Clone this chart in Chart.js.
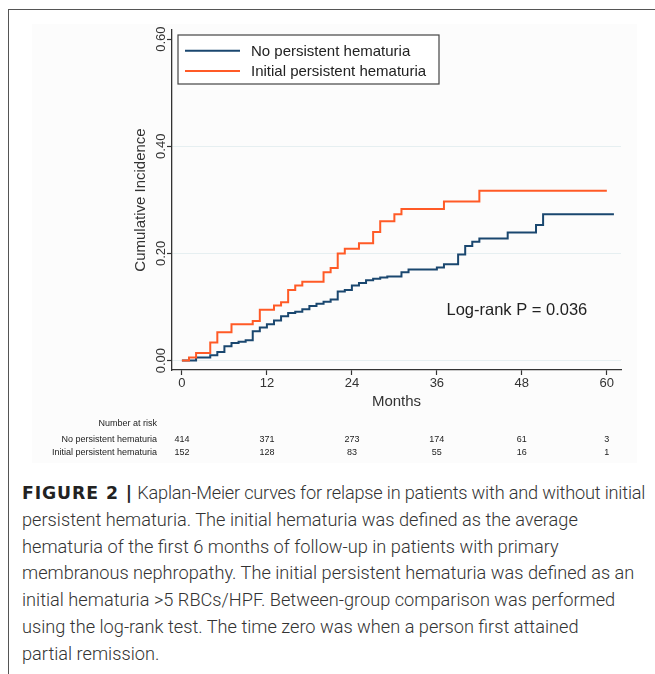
<!DOCTYPE html>
<html>
<head>
<meta charset="utf-8">
<script src="https://cdn.jsdelivr.net/npm/chart.js@4.4.1/dist/chart.umd.min.js"></script>
<style>
  body { margin: 0; background: #fff; width: 655px; height: 674px; overflow: hidden; position: relative; }
  #frame { position: absolute; left: 8px; top: 9px; width: 700px; height: 700px; border-top: 1.5px solid #555; border-left: 1.5px solid #555; }
  #chart { position: absolute; left: 0; top: 0; }
  #caption { position: absolute; left: 22px; top: 480px; font-family: Roboto, "Liberation Sans", sans-serif; font-weight: 300; font-size: 18.2px; line-height: 26.8px; color: #333; white-space: nowrap; }
  #caption b { font-family: "DejaVu Sans", sans-serif; font-weight: 700; font-size: 17.3px; letter-spacing: 0.9px; color: #222; }
  #caption .tight { letter-spacing: -0.2px; }
</style>
</head>
<body>
<div id="frame"></div>
<canvas id="chart" width="655" height="470"></canvas>
<div id="caption">
<b>FIGURE 2 |</b><span class="tight"> Kaplan-Meier curves for relapse in patients with and without initial</span><br>
persistent hematuria. The initial hematuria was defined as the average<br>
hematuria of the first 6 months of follow-up in patients with primary<br>
membranous nephropathy. The initial persistent hematuria was defined as an<br>
initial hematuria &gt;5 RBCs/HPF. Between-group comparison was performed<br>
using the log-rank test. The time zero was when a person first attained<br>
partial remission.
</div>
<script>
// series (months, cumulative incidence)
const seriesNames = ["No persistent hematuria", "Initial persistent hematuria"];
const noPersistMonths = [0, 2, 4, 5, 6, 7, 8, 9, 10, 11, 12, 13, 14, 15, 16, 17, 18, 19, 20, 21, 22, 23, 24, 25, 26, 27, 28, 29, 31, 32, 36, 37, 39, 40, 41, 42, 46, 50, 51, 61];
const noPersistValues = [0, 0.006, 0.010, 0.016, 0.027, 0.033, 0.035, 0.038, 0.055, 0.062, 0.068, 0.075, 0.083, 0.089, 0.091, 0.096, 0.102, 0.106, 0.110, 0.114, 0.129, 0.132, 0.140, 0.145, 0.150, 0.153, 0.155, 0.157, 0.165, 0.170, 0.174, 0.180, 0.198, 0.214, 0.222, 0.228, 0.239, 0.253, 0.273, 0.273];
const persistMonths = [0, 1, 2, 4, 5, 7, 10, 11, 13, 14, 15, 16, 17, 20, 21, 22, 23, 25, 27, 28, 30, 31, 37, 42, 60];
const persistValues = [0, 0.006, 0.014, 0.034, 0.053, 0.068, 0.074, 0.095, 0.103, 0.109, 0.132, 0.140, 0.147, 0.165, 0.173, 0.200, 0.209, 0.219, 0.240, 0.260, 0.273, 0.283, 0.297, 0.317, 0.317];

const xTicks = [0, 12, 24, 36, 48, 60];
const yTicks = [0, 0.2, 0.4, 0.6];
const riskMonths = [0, 12, 24, 36, 48, 60];
const riskNoPersist = [414, 371, 273, 174, 61, 3];
const riskPersist = [152, 128, 83, 55, 16, 1];
const logRankText = "Log-rank P = 0.036";

const blue = "#1a476f";
const orange = "#ff5a26";
const font = "'Liberation Sans', Arial, sans-serif";

function toPoints(xs, ys) {
  return xs.map((m, i) => ({ x: m, y: ys[i] }));
}

// axis labels, legend, risk table and annotation
const extras = {
  id: "extras",
  beforeDraw(chart) {
    const c = chart.ctx;
    c.save();
    c.fillStyle = "#fcfcfc";
    c.fillRect(32, 24, 605, 439);
    c.restore();
  },
  afterDraw(chart) {
    const c = chart.ctx;
    const a = chart.chartArea;
    const x = chart.scales.x, y = chart.scales.y;
    c.save();
    c.fillStyle = "#333";

    // y tick labels, rotated
    c.font = "13px " + font;
    c.textAlign = "center";
    c.textBaseline = "middle";
    yTicks.forEach(v => {
      c.save();
      c.translate(a.left - 11, y.getPixelForValue(v));
      c.rotate(-Math.PI / 2);
      c.fillText(v.toFixed(2), 0, 0);
      c.restore();
    });
    // x tick labels
    xTicks.forEach(v => c.fillText(String(v), x.getPixelForValue(v), a.bottom + 13));

    // titles
    c.font = "15px " + font;
    c.fillText("Months", (a.left + a.right) / 2, a.bottom + 32);
    c.save();
    c.translate(a.left - 31.5, (a.top + a.bottom) / 2);
    c.rotate(-Math.PI / 2);
    c.fillText("Cumulative Incidence", 0, 0);
    c.restore();

    // log-rank annotation
    c.font = "16.5px " + font;
    c.fillStyle = "#222";
    c.fillText(logRankText, x.getPixelForValue(47.3), y.getPixelForValue(0.093));

    // legend box
    const lx = a.left + 6, ly = a.top + 5;
    c.fillStyle = "#fff";
    c.fillRect(lx, ly, 261, 49);
    c.strokeStyle = "#444";
    c.lineWidth = 1.2;
    c.strokeRect(lx, ly, 261, 49);
    c.font = "15px " + font;
    c.textAlign = "left";
    chart.data.datasets.forEach((ds, i) => {
      const yy = ly + 15.7 + i * 20.3;
      c.strokeStyle = ds.borderColor;
      c.lineWidth = 2;
      c.beginPath();
      c.moveTo(lx + 7, yy);
      c.lineTo(lx + 62, yy);
      c.stroke();
      c.fillStyle = "#222";
      c.fillText(ds.label, lx + 73, yy + 1);
    });

    // number at risk table
    c.font = "9px " + font;
    c.fillStyle = "#222";
    c.textAlign = "right";
    c.fillText("Number at risk", a.left - 15, a.bottom + 54);
    c.fillText(seriesNames[0], a.left - 15, a.bottom + 70);
    c.fillText(seriesNames[1], a.left - 15, a.bottom + 82.5);
    c.textAlign = "center";
    riskMonths.forEach((m, i) => {
      const px = x.getPixelForValue(m);
      c.fillText(String(riskNoPersist[i]), px, a.bottom + 70);
      c.fillText(String(riskPersist[i]), px, a.bottom + 82.5);
    });
    c.restore();
  }
};

new Chart(document.getElementById("chart").getContext("2d"), {
  type: "line",
  data: {
    datasets: [
      { label: seriesNames[0], data: toPoints(noPersistMonths, noPersistValues), borderColor: blue, borderWidth: 2, stepped: "before", pointRadius: 0, fill: false, order: 1 },
      { label: seriesNames[1], data: toPoints(persistMonths, persistValues), borderColor: orange, borderWidth: 2, stepped: "before", pointRadius: 0, fill: false, order: 0 }
    ]
  },
  options: {
    responsive: false,
    animation: false,
    layout: { padding: { left: 167, right: 34, top: 30, bottom: 95 } },
    plugins: { legend: { display: false }, tooltip: { enabled: false } },
    scales: {
      x: {
        type: "linear",
        min: -1.4,
        max: 62,
        afterBuildTicks: s => { s.ticks = xTicks.map(v => ({ value: v })); },
        ticks: { display: false },
        grid: { drawOnChartArea: false, tickLength: 5, tickColor: "#333", tickWidth: 1.2 },
        border: { color: "#333", width: 1.3 }
      },
      y: {
        type: "linear",
        min: -0.0175,
        max: 0.617,
        afterBuildTicks: s => { s.ticks = yTicks.map(v => ({ value: v })); },
        ticks: { display: false },
        grid: {
          color: ctx => (ctx.tick && ctx.tick.value > 0.5 ? "rgba(0,0,0,0)" : "#e6eff1"),
          lineWidth: 1,
          tickLength: 5,
          tickColor: "#333",
          tickWidth: 1.2
        },
        border: { color: "#333", width: 1.3 }
      }
    }
  },
  plugins: [extras]
});
</script>
</body>
</html>
